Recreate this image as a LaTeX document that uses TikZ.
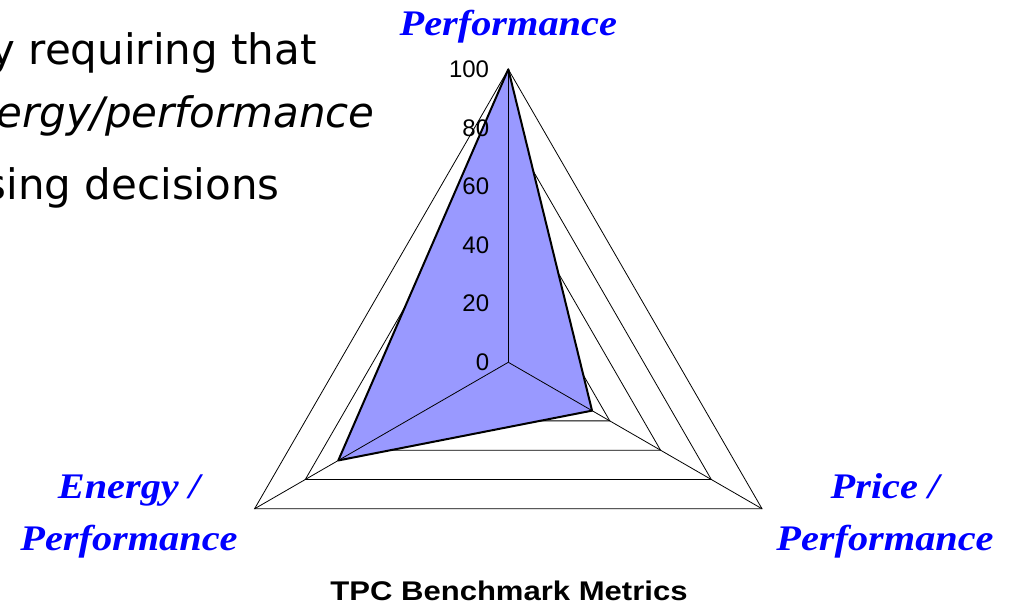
\documentclass[tikz,border=0pt]{standalone}
\usepackage{fontspec}
\setmainfont{DejaVu Sans}
\newfontfamily\tickfont{Liberation Sans}
\newfontfamily\titlefont[FakeStretch=1.15]{Liberation Sans}
\newfontfamily\cornerfont[FakeStretch=1.12]{Liberation Serif}
\usetikzlibrary{calc}
\definecolor{areablue}{RGB}{153,153,255}
\definecolor{labelblue}{RGB}{0,0,255}

\begin{document}
\begin{tikzpicture}[x=1pt, y=1pt,
	ring/.style={line width=0.8pt},
	tick/.style={anchor=east, inner sep=0pt, font=\tickfont\fontsize{24}{24}\selectfont},
	corner/.style={anchor=base, inner sep=0pt, text=labelblue, font=\cornerfont\bfseries\itshape\fontsize{36}{36}\selectfont},
	slide/.style={anchor=base east, inner sep=0pt, font=\fontsize{42}{42}\selectfont}]
	\def\R{293}
	\def\cx{508.3}
	\def\cy{243.7}

	\useasboundingbox (0,0) rectangle (1015,606);
	\clip (0,0) rectangle (1015,606);

	% slide text behind the chart
	\node[slide] (line1) at (317,541) {y requiring that};
	\node[slide] (line2) at (375,478) {\itshape ergy/performance};
	\node[slide] (line3) at (280,406) {sing decisions};

	\begin{scope}[shift={(\cx,\cy)}]
		\coordinate (O) at (0,0);
		\coordinate (P) at (90:\R);
		\coordinate (E) at (210:\R);
		\coordinate (Q) at (330:\R);
		% grid triangles
		\draw[ring] (P) -- (E) -- (Q) -- cycle;
		\draw[ring] (90:0.8*\R) -- (210:0.8*\R) -- (330:0.8*\R) -- cycle;
		\draw[ring] (90:0.6*\R) -- (210:0.6*\R) -- (330:0.6*\R) -- cycle;
		\draw[ring] (90:0.4*\R) -- (210:0.4*\R) -- (330:0.4*\R) -- cycle;
		\draw[ring] (90:0.2*\R) -- (210:0.2*\R) -- (330:0.2*\R) -- cycle;
		% data area
		\filldraw[fill=areablue, line width=2pt, line join=round] (P) -- (210:0.67*\R) -- (330:0.33*\R) -- cycle;
		% spokes
		\draw[ring] (O) -- (P);
		\draw[ring] (O) -- (E);
		\draw[ring] (O) -- (Q);
		% scale
		\node[tick] (t0) at (-19,0) {0};
		\node[tick] (t20) at (-19,58.6) {20};
		\node[tick] (t40) at (-19,117.2) {40};
		\node[tick] (t60) at (-19,175.8) {60};
		\node[tick] (t80) at (-19,234.4) {80};
		\node[tick] (t100) at (-19,293) {100};
	\end{scope}

	\node[corner] (perf) at (\cx,570) {Performance};
	\node[corner] (energy) at (129,108) {Energy /};
	\node[corner] (energyperf) at (129,56) {Performance};
	\node[corner] (price) at (885,108) {Price /};
	\node[corner] (priceperf) at (885,56) {Performance};

	\node[anchor=base, inner sep=0pt, font=\titlefont\bfseries\fontsize{27}{27}\selectfont] (metrics) at (509,6) {TPC Benchmark Metrics};
\end{tikzpicture}
\end{document}
